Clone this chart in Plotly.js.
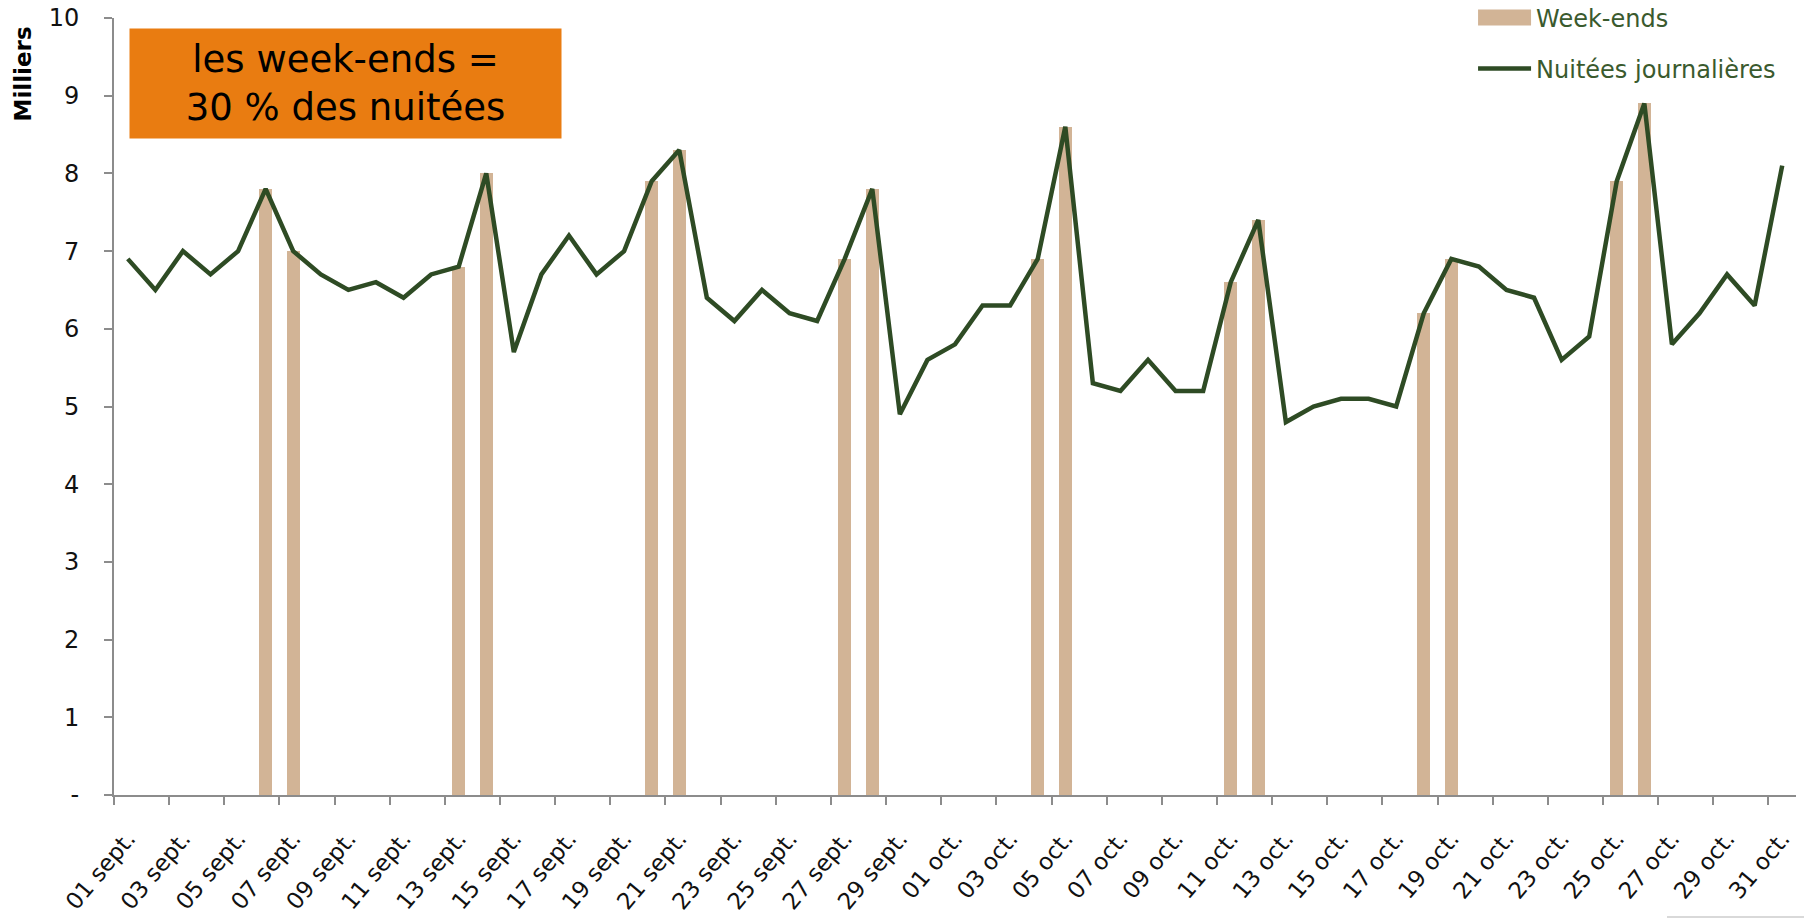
<!DOCTYPE html>
<html><head><meta charset="utf-8">
<script src="https://cdn.plot.ly/plotly-3.0.1.min.js"></script>
<style>html,body{margin:0;padding:0;background:#fff}#chart{width:1804px;height:919px}</style>
</head><body><div id="chart"></div>
<script>
const dayLabels = [
  "01 sept.","02 sept.","03 sept.","04 sept.","05 sept.","06 sept.","07 sept.","08 sept.","09 sept.","10 sept.",
  "11 sept.","12 sept.","13 sept.","14 sept.","15 sept.","16 sept.","17 sept.","18 sept.","19 sept.","20 sept.",
  "21 sept.","22 sept.","23 sept.","24 sept.","25 sept.","26 sept.","27 sept.","28 sept.","29 sept.","30 sept.",
  "01 oct.","02 oct.","03 oct.","04 oct.","05 oct.","06 oct.","07 oct.","08 oct.","09 oct.","10 oct.",
  "11 oct.","12 oct.","13 oct.","14 oct.","15 oct.","16 oct.","17 oct.","18 oct.","19 oct.","20 oct.",
  "21 oct.","22 oct.","23 oct.","24 oct.","25 oct.","26 oct.","27 oct.","28 oct.","29 oct.","30 oct.","31 oct."
];
const nuitees = [
  6.9,6.5,7.0,6.7,7.0,7.8,7.0,6.7,6.5,6.6,
  6.4,6.7,6.8,8.0,5.7,6.7,7.2,6.7,7.0,7.9,
  8.3,6.4,6.1,6.5,6.2,6.1,6.9,7.8,4.9,5.6,
  5.8,6.3,6.3,6.9,8.6,5.3,5.2,5.6,5.2,5.2,
  6.6,7.4,4.8,5.0,5.1,5.1,5.0,6.2,6.9,6.8,
  6.5,6.4,5.6,5.9,7.9,8.9,5.8,6.2,6.7,6.3,8.1
];
const weekEndDays = [
  "06 sept.","07 sept.","13 sept.","14 sept.","20 sept.","21 sept.","27 sept.","28 sept.",
  "04 oct.","05 oct.","11 oct.","12 oct.","18 oct.","19 oct.","25 oct.","26 oct."
];
const yTickVals = [0,1,2,3,4,5,6,7,8,9,10];
const yTickText = ["-","1","2","3","4","5","6","7","8","9","10"];

const xIdx = dayLabels.map((d,i)=>i);
const weIdx = weekEndDays.map(d=>dayLabels.indexOf(d));
const weVals = weIdx.map(i=>nuitees[i]);
const xTickVals = xIdx.filter(i=>i%2===0);
const xTickText = xTickVals.map(i=>dayLabels[i]);

const FONT = "'DejaVu Sans', sans-serif";
const GREEN = "#2E4B24";
const LEGEND_GREEN = "#3A5A2E";
const TAN = "#D2B496";
const AXIS = "#8c8c8c";

const traces = [
  {type:"bar", x:weIdx, y:weVals, name:"Week-ends", width:0.46,
   marker:{color:TAN}, legend:"legend", hoverinfo:"skip"},
  {type:"scatter", mode:"lines", x:xIdx, y:nuitees, name:"Nuitées journalières",
   line:{color:GREEN, width:4.5}, legend:"legend2"}
];

const layout = {
  width:1804, height:919,
  margin:{l:114, r:8, t:17.5, b:124, autoexpand:false},
  paper_bgcolor:"#fff", plot_bgcolor:"#fff",
  font:{family:FONT, size:22, color:"#111"},
  xaxis:{range:[-0.5,60.5], tickvals:xTickVals, ticktext:xTickText, tickangle:-50,
    ticks:"", showline:true, linecolor:AXIS, linewidth:2, showgrid:false, zeroline:false,
    ticklabelstandoff:19,
    minor:{tick0:-0.5, dtick:2, ticks:"outside", ticklen:8, tickwidth:2, tickcolor:AXIS, showgrid:false},
    tickfont:{family:FONT, size:23, color:"#111"}},
  yaxis:{range:[0,10], tickvals:yTickVals, ticktext:yTickText, ticks:"outside", ticklen:8,
    tickwidth:2, tickcolor:AXIS, showline:true, linecolor:AXIS, linewidth:2,
    showgrid:false, zeroline:false, ticklabelstandoff:20, tickfont:{family:FONT, size:24, color:"#111"}},
  showlegend:true,
  legend:{x:0.808, y:1.0, xanchor:"left", yanchor:"middle", bgcolor:"rgba(0,0,0,0)",
    font:{family:FONT, size:24, color:LEGEND_GREEN}, itemwidth:53},
  legend2:{x:0.808, y:0.9344, xanchor:"left", yanchor:"middle", bgcolor:"rgba(0,0,0,0)",
    font:{family:FONT, size:24, color:LEGEND_GREEN}, itemwidth:53},
  annotations:[
    {xref:"paper", yref:"paper", x:0.0089, y:0.9865, xanchor:"left", yanchor:"top",
     width:429, height:107, bgcolor:"#E97C11", showarrow:false, align:"center", valign:"middle",
     text:"les week-ends =<br>30 % des nuitées", font:{family:FONT, size:37, color:"#000"}},
    {xref:"paper", yref:"paper", x:-0.0544, y:0.928, xanchor:"center", yanchor:"middle",
     textangle:-90, showarrow:false, text:"<b>Milliers</b>", font:{family:FONT, size:23, color:"#000"}}
  ],
  shapes:[
    {type:"line", xref:"paper", yref:"paper", x0:0.9233, x1:1.01, y0:-0.157, y1:-0.157,
     line:{color:"#d9d9d9", width:2}}
  ],
  bargap:0
};
Plotly.newPlot("chart", traces, layout, {displayModeBar:false, staticPlot:true}).then(gd=>{
  // widen the legend swatches to match the reference
  gd.querySelectorAll(".legendpoints path").forEach(p=>{
    const d = p.getAttribute("d") || "";
    if (d === "M6,6H-6V-6H6Z") p.setAttribute("d","M26.5,8H-26.5V-8H26.5Z");
  });
});
</script></body></html>
